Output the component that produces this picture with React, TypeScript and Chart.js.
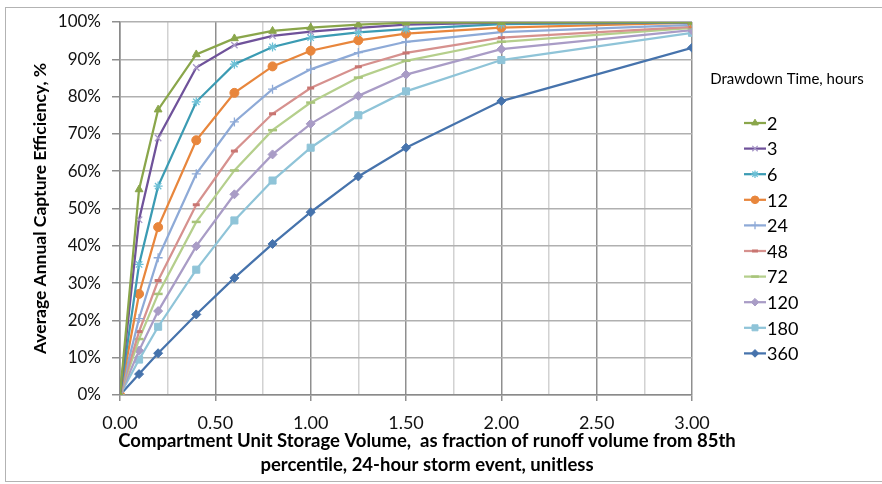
import React, { useEffect, useRef } from 'react';
import { Chart, registerables } from 'chart.js';
import { drawPoint } from 'chart.js/helpers';

Chart.register(...registerables);

const FONT = "Lato, 'Liberation Sans', sans-serif";

// Compartment unit storage volume (fraction of 85th percentile runoff)
const xValues = [0, 0.1, 0.2, 0.4, 0.6, 0.8, 1.0, 1.25, 1.5, 2.0, 3.0];

// Average annual capture efficiency, % — one array per drawdown time (hours)
const dd2 = [0, 55.1, 76.5, 91.3, 95.6, 97.6, 98.5, 99.3, 99.8, 99.9, 100];
const dd3 = [0, 47, 68.9, 87.8, 93.8, 96.3, 97.4, 98.4, 99.3, 99.8, 100];
const dd6 = [0, 35, 56, 78.6, 88.7, 93.3, 95.8, 97.2, 98.1, 99.4, 99.9];
const dd12 = [0, 27.1, 45, 68.3, 81, 88.1, 92.3, 95.1, 96.9, 98.5, 99.8];
const dd24 = [0, 20.5, 36.8, 59.3, 73.2, 82, 87.3, 91.8, 94.7, 97.3, 99.2];
const dd48 = [0, 17, 30.7, 51, 65.4, 75.4, 82.3, 88, 91.7, 95.8, 98.7];
const dd72 = [0, 15, 27.1, 46.4, 60.2, 71, 78.4, 85.1, 89.6, 94.7, 98.4];
const dd120 = [0, 11.9, 22.5, 39.9, 53.8, 64.5, 72.7, 80.2, 85.9, 92.7, 97.8];
const dd180 = [0, 9.5, 18.3, 33.6, 46.8, 57.5, 66.3, 75, 81.4, 89.8, 97.1];
const dd360 = [0, 5.6, 11.2, 21.6, 31.4, 40.5, 49, 58.6, 66.3, 78.8, 93.1];

const seriesLabels = ['2', '3', '6', '12', '24', '48', '72', '120', '180', '360'];
const seriesValues = [dd2, dd3, dd6, dd12, dd24, dd48, dd72, dd120, dd180, dd360];

// styles per series
const lineColors = ['#8aa64b', '#6f529a', '#3b9bb3', '#e8863c', '#8eaad7', '#d6918e', '#b5cf8c', '#a99cc6', '#8fc4d8', '#4673ac'];
const markerFill = ['#8aa64b', '#a898c8', '#6cc0d6', '#e8863c', '#8eaad7', '#c97571', '#a8c47a', '#a99cc6', '#8fc4d8', '#4673ac'];
const markerStyles = ['triangle', 'crossRot', 'star', 'circle', 'cross', 'line', 'line', 'rectRot', 'rect', 'rectRot'];
const markerRadius = [4.5, 4.5, 4.5, 4.5, 4.5, 3.5, 4.5, 4.5, 5, 4.5];
const markerBorder = [1, 1.3, 1.3, 1, 1.3, 3, 2.5, 1, 1, 1];

const yTickValues = [0, 10, 20, 30, 40, 50, 60, 70, 80, 90, 100];
const xAxisTitle = ['Compartment Unit Storage Volume,  as fraction of runoff volume from 85th', 'percentile, 24-hour storm event, unitless'];
const yAxisTitle = 'Average Annual Capture Efficiency, %';
const legendTitle = 'Drawdown Time, hours';

const sideLegend = {
  id: 'sideLegend',
  afterDraw(chart: any) {
    const ctx = chart.ctx as CanvasRenderingContext2D;
    ctx.save();
    // x-axis title (two lines)
    ctx.fillStyle = '#000';
    ctx.font = `bold 18.5px ${FONT}`;
    ctx.textAlign = 'center';
    ctx.textBaseline = 'middle';
    xAxisTitle.forEach((line, i) => ctx.fillText(line, 427, 441 + i * 24));
    // legend
    ctx.font = `15px ${FONT}`;
    ctx.fillText(legendTitle, 787, 79);
    chart.data.datasets.forEach((ds: any, i: number) => {
      const y = 123 + i * 25.6;
      ctx.strokeStyle = ds.borderColor;
      ctx.lineWidth = ds.borderWidth;
      ctx.beginPath();
      ctx.moveTo(744, y);
      ctx.lineTo(766, y);
      ctx.stroke();
      ctx.fillStyle = ds.pointBackgroundColor;
      ctx.strokeStyle = ds.pointBorderColor;
      ctx.lineWidth = ds.pointBorderWidth;
      drawPoint(ctx, { pointStyle: ds.pointStyle, radius: ds.pointRadius * 0.85, rotation: 0, borderWidth: ds.pointBorderWidth }, 755, y);
      ctx.fillStyle = '#000';
      ctx.font = `18px ${FONT}`;
      ctx.textAlign = 'left';
      ctx.fillText(ds.label, 767, y + 1);
    });
    ctx.restore();
  },
};

export default function App() {
  const ref = useRef<HTMLCanvasElement | null>(null);
  useEffect(() => {
    document.body.style.margin = '0';
    const canvas = ref.current!;
    const datasets = seriesLabels.map((label, i) => ({
      label,
      data: xValues.map((x, j) => ({ x, y: seriesValues[i][j] })),
      borderColor: lineColors[i],
      backgroundColor: lineColors[i],
      borderWidth: 2.25,
      pointStyle: markerStyles[i],
      pointRadius: markerRadius[i],
      pointBackgroundColor: markerFill[i],
      pointBorderColor: markerFill[i],
      pointBorderWidth: markerBorder[i],
      tension: 0,
      fill: false,
    }));
    const chart = new Chart(canvas, {
      type: 'line',
      data: { datasets },
      plugins: [sideLegend],
      options: {
        animation: false,
        responsive: false,
        maintainAspectRatio: false,
        layout: { padding: { left: 0, right: 190, top: 22, bottom: 0 } },
        plugins: { legend: { display: false }, tooltip: { enabled: false } },
        scales: {
          x: {
            type: 'linear',
            min: 0,
            max: 3,
            afterFit: (s: any) => { s.height = 89; },
            border: { color: '#8a8a8a', width: 1.5 },
            grid: {
              color: (c: any) => (Math.abs(c.tick.value * 2 - Math.round(c.tick.value * 2)) < 1e-6 ? '#8f8f8f' : '#d2d2d2'),
              tickColor: (c: any) => (Math.abs(c.tick.value * 2 - Math.round(c.tick.value * 2)) < 1e-6 ? '#8f8f8f' : 'rgba(0,0,0,0)'),
              lineWidth: 1.5,
              tickLength: 6,
            },
            ticks: {
              stepSize: 0.25,
              autoSkip: false,
              maxRotation: 0,
              padding: 11,
              color: '#111',
              font: { family: FONT, size: 18 },
              callback: (v: any) => (Math.abs(v * 2 - Math.round(v * 2)) < 1e-6 ? Number(v).toFixed(2) : ''),
            },
            title: { display: false },
          },
          y: {
            type: 'linear',
            min: 0,
            max: 100,
            afterFit: (s: any) => { s.width = 120; },
            afterBuildTicks: (s: any) => { s.ticks = yTickValues.map((v) => ({ value: v })); },
            border: { color: '#8a8a8a', width: 1.5 },
            grid: { color: '#b0b0b0', lineWidth: 1.5, tickLength: 8, tickColor: '#8f8f8f' },
            ticks: {
              padding: 11,
              color: '#111',
              font: { family: FONT, size: 17 },
              callback: (v: any) => `${v}%`,
            },
            title: {
              display: true,
              text: yAxisTitle,
              color: '#000',
              font: { family: FONT, size: 17.5, weight: 'bold', lineHeight: 1.2 },
              padding: { top: 30, bottom: 0 },
            },
          },
        },
      } as any,
    });
    return () => chart.destroy();
  }, []);
  return (
    <div style={{ position: 'relative', width: 882, height: 484, overflow: 'hidden', background: '#fff' }}>
      <div style={{ position: 'absolute', left: 5, top: 7, width: 890, height: 475, border: '1px solid #b3b3b3', boxSizing: 'border-box' }} />
      <canvas ref={ref} width={882} height={484} style={{ position: 'absolute', left: 0, top: 0, width: 882, height: 484 }} />
    </div>
  );
}
